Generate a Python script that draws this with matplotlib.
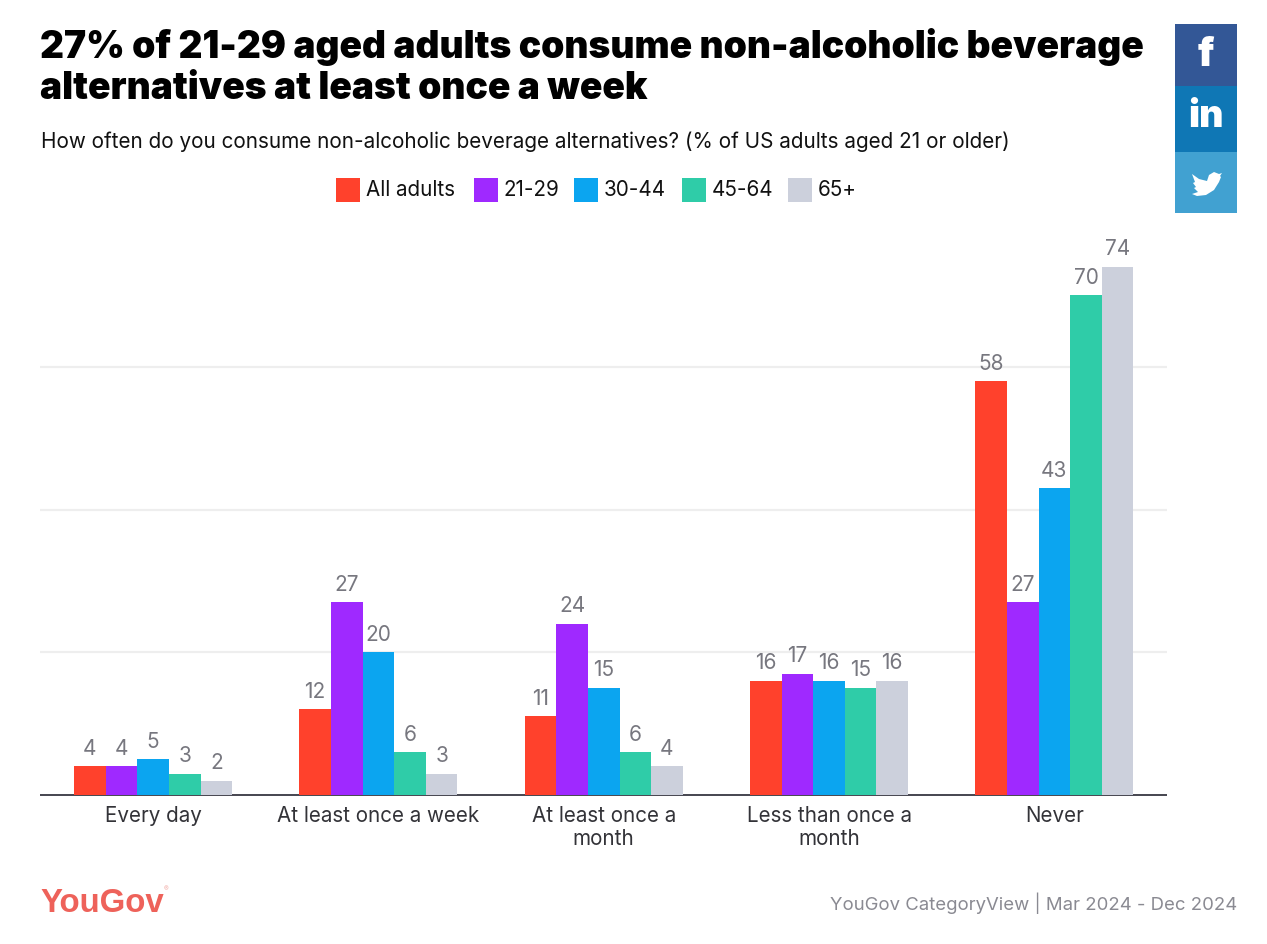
import numpy as np
import matplotlib
matplotlib.use('Agg')
import matplotlib.pyplot as plt
from matplotlib.patches import Rectangle, Polygon

W, H = 1267, 944

categories = ['Every day', 'At least once a week', 'At least once a\nmonth',
              'Less than once a\nmonth', 'Never']
all_adults = [4, 12, 11, 16, 58]
age_21_29 = [4, 27, 24, 17, 27]
age_30_44 = [5, 20, 15, 16, 43]
age_45_64 = [3, 6, 6, 15, 70]
age_65 = [2, 3, 4, 16, 74]

series = [all_adults, age_21_29, age_30_44, age_45_64, age_65]
names = ['All adults', '21-29', '30-44', '45-64', '65+']
colors = ['#ff412c', '#9f29ff', '#0ba5f0', '#2fcca8', '#ccd0dc']
grid_values = [20, 40, 60]

plt.rcParams['font.family'] = ['Inter', 'DejaVu Sans']

fig = plt.figure(figsize=(W / 100, H / 100), dpi=100)

# main chart, placed by pixel position
ax = fig.add_axes([40.4 / W, (H - 795) / H, 1126.6 / W, 571 / H])
x = np.arange(len(categories))
bar_w = 0.1404
for i, vals in enumerate(series):
    pos = x + (i - 2) * bar_w
    ax.bar(pos, vals, width=bar_w, color=colors[i], zorder=3, linewidth=0)
    for p, v in zip(pos, vals):
        ax.text(p, v + 1.05, str(v), ha='center', va='bottom', fontsize=15,
                color='#77777f', zorder=4)

ax.set_xlim(-0.5, 4.5)
ax.set_ylim(0, 80)
ax.set_yticks(grid_values)
ax.set_yticklabels([])
ax.tick_params(axis='y', length=0)
ax.tick_params(axis='x', length=0, pad=8)
ax.set_xticks(x)
ax.set_xticklabels(categories, fontsize=14.85, color='#333338', linespacing=1.2)
ax.grid(axis='y', color='#eeeeee', linewidth=1.6, zorder=0)
for s in ['top', 'left', 'right']:
    ax.spines[s].set_visible(False)
ax.spines['bottom'].set_color('#45454f')
ax.spines['bottom'].set_linewidth(1.4)
ax.spines['bottom'].set_capstyle('butt')
ax.set_facecolor('none')

# overlay in pixel coordinates for title, legend, icons, footer
ov = fig.add_axes([0, 0, 1, 1], zorder=5)
ov.set_xlim(0, W)
ov.set_ylim(H, 0)
ov.axis('off')

ov.text(40, 47, '27% of 21-29 aged adults consume non-alcoholic beverage', fontsize=26.75,
        family='Inter', fontweight='black', color='black', va='center')
ov.text(40, 89, 'alternatives at least once a week', fontsize=26.75,
        family='Inter', fontweight='black', color='black', va='center')
ov.text(41, 142, 'How often do you consume non-alcoholic beverage alternatives? (% of US adults aged 21 or older)',
        fontsize=14.9, color='#111111', va='center')

# legend
leg_x = [336, 474, 574, 682, 788]
for lx, nm, c in zip(leg_x, names, colors):
    ov.add_patch(Rectangle((lx, 178), 24, 24, color=c, linewidth=0))
    ov.text(lx + 29.5, 190, nm, fontsize=14.85, color='#111111', va='center')

# share buttons
ov.add_patch(Rectangle((1175, 24), 62, 62, color='#335796', linewidth=0))
ov.add_patch(Rectangle((1175, 86), 62, 66, color='#0f77b5', linewidth=0))
ov.add_patch(Rectangle((1175, 152), 62, 61, color='#41a1d1', linewidth=0))
ov.text(1206, 55, 'f', fontsize=28, fontweight='black', color='white', ha='center', va='center')
ov.text(1206, 117, 'in', fontsize=27, fontweight='black', color='white', ha='center', va='center')
bird = [(1192, 174), (1199, 179), (1207, 181), (1209, 175), (1214, 172), (1219, 174),
        (1222, 173), (1220, 176), (1221, 177), (1219, 182), (1214, 190), (1206, 195),
        (1197, 196), (1192, 194), (1198, 192), (1194, 188), (1196, 187), (1193, 183), (1195, 182)]
ov.add_patch(Polygon(bird, closed=True, color='white', linewidth=0))

# footer
ov.text(40, 904, 'YouGov', fontsize=23.8, family='Liberation Sans', fontweight='bold',
        color='#ee625a', va='center')
ov.text(166, 889, '®', fontsize=5, color='#f3b0aa', ha='center', va='center')
ov.text(1237, 903, 'YouGov CategoryView | Mar 2024 - Dec 2024', fontsize=13.33,
        color='#8a8a92', ha='right', va='center')

fig.savefig('out.png', dpi=100)
